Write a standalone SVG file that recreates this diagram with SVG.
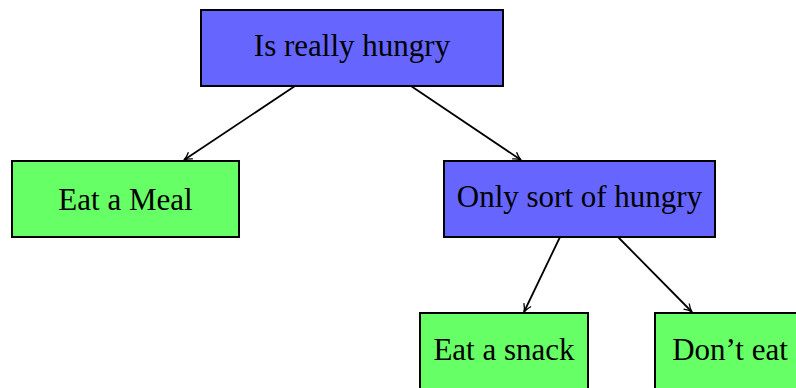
<svg xmlns="http://www.w3.org/2000/svg" width="796" height="388" viewBox="0 0 796 388">
  <style>
    .box { stroke: #000; stroke-width: 2; }
    .decision { fill: #6666ff; }
    .outcome { fill: #66ff66; }
    .label { font-family: "Liberation Serif", "DejaVu Serif", serif; font-size: 31px; fill: #000; text-anchor: middle; }
    .edge { stroke: #000; stroke-width: 1.8; fill: none; marker-end: url(#arrow); }
  </style>
  <defs>
    <marker id="arrow" viewBox="0 0 10 10" refX="9" refY="5" markerWidth="10" markerHeight="10" markerUnits="userSpaceOnUse" orient="auto">
      <path d="M1,1 Q5,4 9,5 Q5,6 1,9" fill="none" stroke="#000" stroke-width="1.3"/>
    </marker>
  </defs>

  <g id="edges">
    <line class="edge" x1="295" y1="86" x2="184" y2="160"/>
    <line class="edge" x1="411" y1="86" x2="521" y2="160"/>
    <line class="edge" x1="560" y1="237" x2="524" y2="312"/>
    <line class="edge" x1="618" y1="237" x2="692" y2="312"/>
  </g>

  <g id="root">
    <rect class="box decision" x="201" y="10" width="302" height="76"/>
    <text class="label" x="352" y="56">Is really hungry</text>
  </g>

  <g id="eat-meal">
    <rect class="box outcome" x="12" y="161" width="227" height="76"/>
    <text class="label" x="125.5" y="210">Eat a Meal</text>
  </g>

  <g id="sort-of-hungry">
    <rect class="box decision" x="444" y="161" width="271" height="76"/>
    <text class="label" x="579.5" y="207">Only sort of hungry</text>
  </g>

  <g id="eat-snack">
    <rect class="box outcome" x="420" y="313" width="168" height="80"/>
    <text class="label" x="504" y="360">Eat a snack</text>
  </g>

  <g id="dont-eat">
    <rect class="box outcome" x="655" y="313" width="150" height="80"/>
    <text class="label" x="730" y="360">Don’t eat</text>
  </g>
</svg>
